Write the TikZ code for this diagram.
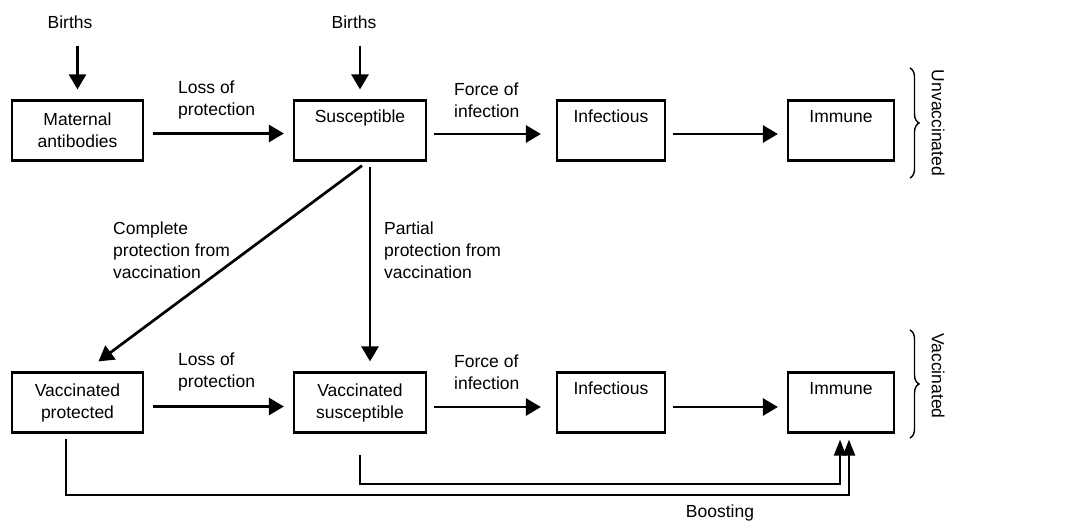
\documentclass[tikz,border=0pt]{standalone}
\usepackage{fontspec}
\setmainfont{Liberation Sans}
\usetikzlibrary{arrows.meta,calc,decorations.pathreplacing}
\newcommand\dfont{\fontsize{17.5}{22}\selectfont}
\begin{document}
\begin{tikzpicture}[x=1pt,y=-1pt,
  box/.style={draw, line width=2.2pt, minimum height=60pt, align=center, inner sep=0pt, font=\dfont},
  lbl/.style={font=\dfont, align=left, inner sep=0pt, anchor=west},
  txt/.style={font=\dfont, inner sep=0pt},
  arr/.style={line width=2.7pt, -{Triangle[length=15pt,width=17pt]}},
  barr/.style={line width=2pt, -{Triangle[length=16pt,width=12pt]}},
  brc/.style={line width=1.4pt, decorate, decoration={brace, amplitude=9pt}}
]
\fill[white] (0,0) rectangle (1075,522);
\useasboundingbox (0,0) rectangle (1075,522);

% top row
\node[box, minimum width=131pt] (ma) at (77.5,130.5) {Maternal\\antibodies};
\node[box, minimum width=132pt] (sus) at (360,130.5) {Susceptible\\\strut};
\node[box, minimum width=108pt] (inf1) at (611,130.5) {Infectious\\\strut};
\node[box, minimum width=106pt] (imm1) at (841,130.5) {Immune\\\strut};

% bottom row
\node[box, minimum width=131pt] (vp) at (77.5,402.5) {Vaccinated\\protected};
\node[box, minimum width=132pt] (vs) at (360,402.5) {Vaccinated\\susceptible};
\node[box, minimum width=108pt] (inf2) at (611,402.5) {Infectious\\\strut};
\node[box, minimum width=106pt] (imm2) at (841,402.5) {Immune\\\strut};

% births
\node[txt] (b1) at (70,22) {Births};
\node[txt] (b2) at (354,22) {Births};
\draw[arr, shorten <=17pt] (b1.south -| ma.north) -- ($(ma.north)+(0,-10)$);
\draw[arr, shorten <=17pt] (b2.south -| sus.north) -- ($(sus.north)+(0,-10)$);

% labels
\node[lbl] (l1) at (178,100) {Loss of\\protection};
\node[lbl] (f1) at (454,100) {Force of\\infection};
\node[lbl] (l2) at (178,372) {Loss of\\protection};
\node[lbl] (f2) at (454,372) {Force of\\infection};
\node[lbl] (cp) at (113,250) {Complete\\protection from\\vaccination};
\node[lbl] (pp) at (384,250) {Partial\\protection from\\vaccination};
\node[txt] (bo) at (720,513) {Boosting};

% horizontal arrows
\draw[arr] ($(ma.east)+(9,3)$) -- ($(sus.west)+(-9,3)$);
\draw[arr] ($(sus.east)+(7,3.5)$) -- ($(inf1.west)+(-15,3.5)$);
\draw[arr] ($(inf1.east)+(7,3.5)$) -- ($(imm1.west)+(-9,3.5)$);
\draw[arr] ($(vp.east)+(9,4)$) -- ($(vs.west)+(-9,4)$);
\draw[arr] ($(vs.east)+(7,4.5)$) -- ($(inf2.west)+(-15,4.5)$);
\draw[arr] ($(inf2.east)+(7,4.5)$) -- ($(imm2.west)+(-9,4.5)$);

% vaccination arrows
\draw[arr] ($(sus.south)+(2,4)$) -- ($(vp.north)+(21,-10)$);
\draw[arr] ($(sus.south)+(10,5)$) -- ($(vs.north)+(10,-10)$);

% boosting
\draw[barr] ($(vp.south)+(-11.5,5)$) -- ++(0,56) -| ($(imm2.south)+(8,6)$);
\draw[barr] ($(vs.south)+(0,21)$) -- ++(0,29) -| ($(imm2.south)+(-1,6)$);

% braces
\coordinate (u1) at (910,68);
\coordinate (u2) at (910,178);
\coordinate (v1) at (910,330);
\coordinate (v2) at (910,438);
\draw[brc] (u1) -- (u2);
\draw[brc] (v1) -- (v2);
\node[txt, rotate=-90] (uv) at (938,123) {Unvaccinated};
\node[txt, rotate=-90] (vc) at (938,376) {Vaccinated};
\end{tikzpicture}
\end{document}
